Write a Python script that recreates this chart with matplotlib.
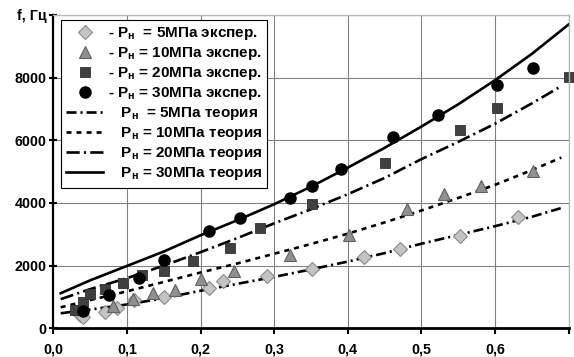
import matplotlib
matplotlib.use("Agg")
import matplotlib.pyplot as plt

plt.rcParams['font.family'] = ['Liberation Sans', 'DejaVu Sans']
plt.rcParams['font.weight'] = 'bold'
plt.rcParams['mathtext.fontset'] = 'custom'
plt.rcParams['mathtext.rm'] = 'Liberation Sans:bold'
plt.rcParams['mathtext.default'] = 'regular'

# ---- experimental data ----
x5 = [0.036, 0.040, 0.070, 0.086, 0.109, 0.150, 0.211, 0.230, 0.290, 0.352, 0.422, 0.471, 0.552, 0.631]
y5 = [430, 350, 530, 640, 900, 990, 1280, 1520, 1670, 1890, 2290, 2530, 2930, 3550]

x10 = [0.081, 0.108, 0.136, 0.165, 0.200, 0.245, 0.321, 0.401, 0.481, 0.531, 0.581, 0.652]
y10 = [710, 930, 1120, 1230, 1570, 1840, 2350, 2990, 3810, 4300, 4530, 5030]

x20 = [0.030, 0.040, 0.050, 0.070, 0.095, 0.120, 0.150, 0.190, 0.240, 0.281, 0.352, 0.451, 0.552, 0.602, 0.701]
y20 = [590, 850, 1100, 1250, 1460, 1710, 1840, 2150, 2560, 3200, 3980, 5280, 6320, 7030, 8020]

x30 = [0.040, 0.075, 0.116, 0.150, 0.211, 0.254, 0.322, 0.351, 0.391, 0.462, 0.522, 0.602, 0.652]
y30 = [550, 1070, 1600, 2190, 3110, 3520, 4160, 4550, 5100, 6100, 6820, 7750, 8320]

# ---- theory curves ----
xt = [0.01, 0.05, 0.10, 0.15, 0.20, 0.25, 0.30, 0.35, 0.40, 0.45, 0.50, 0.55, 0.60, 0.65, 0.69]
t5 = [480, 600, 760, 960, 1200, 1420, 1640, 1880, 2130, 2400, 2700, 2980, 3260, 3560, 3840]
t10 = [670, 900, 1180, 1480, 1780, 2070, 2380, 2690, 3020, 3380, 3760, 4160, 4580, 5050, 5450]
t20 = [930, 1250, 1600, 2000, 2430, 2880, 3350, 3800, 4280, 4800, 5400, 5950, 6530, 7180, 7730]
xt30 = [0.01, 0.05, 0.10, 0.15, 0.20, 0.25, 0.30, 0.35, 0.40, 0.45, 0.50, 0.55, 0.60, 0.65, 0.70]
t30 = [1120, 1530, 1990, 2450, 2970, 3450, 3960, 4520, 5130, 5760, 6440, 7150, 7920, 8760, 9700]

xticks = [0.0, 0.1, 0.2, 0.3, 0.4, 0.5, 0.6, 0.7]
xticklabels = ['0,0', '0,1', '0,2', '0,3', '0,4', '0,5', '0,6', '']
yticks = [0, 2000, 4000, 6000, 8000, 10000]
yticklabels = ['0', '2000', '4000', '6000', '8000', 'f, Гц']

exp_labels = [r'- P$_{н}$  = 5МПа экспер.', r'- P$_{н}$ = 10МПа экспер.',
              r'- P$_{н}$ = 20МПа экспер.', r'- P$_{н}$ = 30МПа экспер.']
th_labels = [r'   P$_{н}$  = 5МПа теория', r'   P$_{н}$ = 10МПа теория',
             r'   P$_{н}$ = 20МПа теория', r'   P$_{н}$ = 30МПа теория']

fig = plt.figure(figsize=(5.74, 3.57), dpi=100)
ax = fig.add_axes([0.0929, 0.0804, 0.8979, 0.8776])

ax.set_xlim(0, 0.7)
ax.set_ylim(0, 10000)
ax.grid(True, color='#808080', linewidth=0.8)
ax.set_axisbelow(True)

lw = 1.9
ls5 = (0, (3.8, 1.5, 0.8, 1.5))
ls10 = (0, (1.9, 1.9))
ls20 = (0, (5.0, 1.6, 0.8, 1.6))
l5, = ax.plot(xt, t5, color='black', lw=lw, ls=ls5)
l10, = ax.plot(xt, t10, color='black', lw=lw, ls=ls10)
l20, = ax.plot(xt, t20, color='black', lw=lw, ls=ls20)
l30, = ax.plot(xt30, t30, color='black', lw=1.9, ls='-')

m5, = ax.plot(x5, y5, ls='none', marker='D', ms=7, mfc='#c4c4c4', mec='#8a8a8a', mew=0.8, clip_on=False)
m10, = ax.plot(x10, y10, ls='none', marker='^', ms=9, mfc='#909090', mec='#606060', mew=0.8, clip_on=False)
m20, = ax.plot(x20, y20, ls='none', marker='s', ms=7.5, mfc='#404040', mec='#303030', mew=0.6, clip_on=False)
m30, = ax.plot(x30, y30, ls='none', marker='o', ms=8, mfc='black', mec='black', clip_on=False)

ax.set_xticks(xticks)
ax.set_xticklabels(xticklabels)
ax.set_yticks(yticks)
ax.set_yticklabels(yticklabels)
ax.tick_params(axis='both', labelsize=10.3, width=1.5, length=4, colors='black')
ax.tick_params(axis='y', direction='inout', length=6, pad=2)
ax.tick_params(axis='x', direction='out', pad=6)
for lab in ax.get_xticklabels() + ax.get_yticklabels():
    lab.set_fontweight('bold')

for s in ['top', 'right']:
    ax.spines[s].set_color('#b8b8b8')
    ax.spines[s].set_linewidth(1)
ax.spines['left'].set_linewidth(1.6)
ax.spines['bottom'].set_linewidth(2)

handles = [m5, m10, m20, m30, l5, l10, l20, l30]
labels = exp_labels + th_labels
leg = ax.legend(handles, labels, loc='upper left', bbox_to_anchor=(0.015, 0.985),
                fontsize=11, frameon=True, fancybox=False, framealpha=1,
                edgecolor='black', handlelength=2.4, handletextpad=0.3,
                labelspacing=0.2, borderpad=0.35, borderaxespad=0)
leg.get_frame().set_linewidth(0.8)
for t in leg.get_texts():
    t.set_fontweight('bold')

fig.savefig('out.png', dpi=100)
